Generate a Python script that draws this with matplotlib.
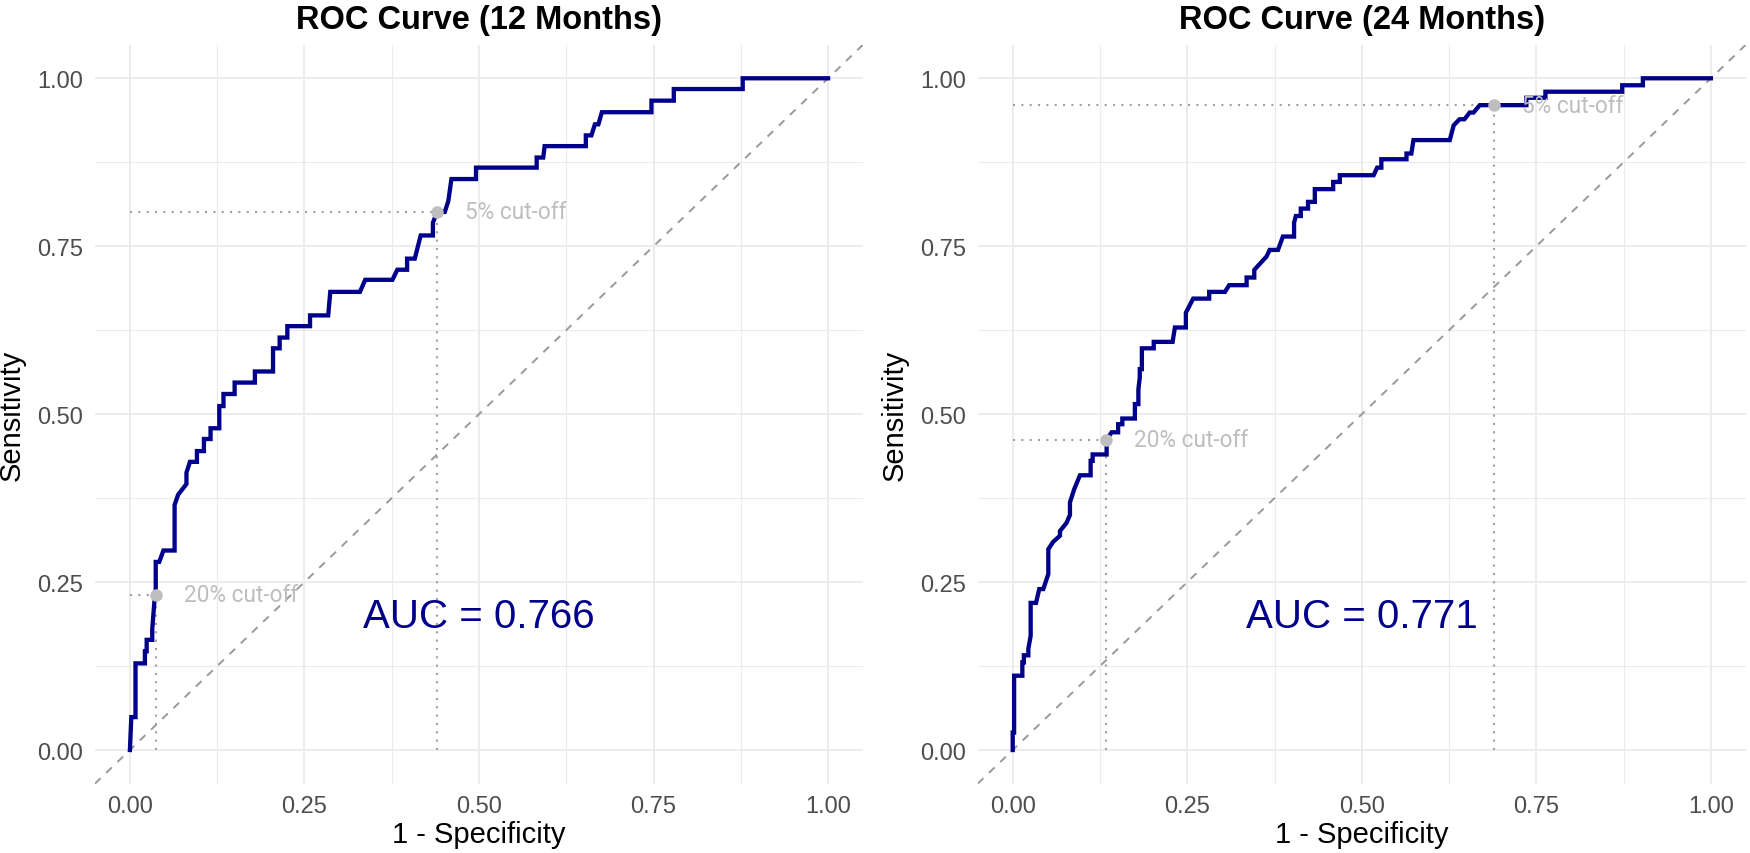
import numpy as np
import matplotlib
matplotlib.use("Agg")
import matplotlib.pyplot as plt
from matplotlib.ticker import MultipleLocator

matplotlib.rcParams['font.family'] = ['Liberation Sans', 'DejaVu Sans']

# ROC curve vertices (1 - specificity, sensitivity)
fpr_12 = [0, 0.002, 0.008, 0.008, 0.0215, 0.0215, 0.024, 0.024, 0.032, 0.032,
          0.035, 0.037, 0.037, 0.042, 0.048, 0.064, 0.064, 0.069, 0.081, 0.081,
          0.086, 0.096, 0.096, 0.106, 0.106, 0.1155, 0.1155, 0.128, 0.128, 0.134,
          0.134, 0.150, 0.150, 0.179, 0.179, 0.205, 0.205, 0.2145, 0.2145, 0.2255,
          0.2255, 0.258, 0.258, 0.284, 0.287, 0.3295, 0.337, 0.376, 0.383, 0.397,
          0.397, 0.408, 0.4165, 0.434, 0.434, 0.440, 0.451, 0.456, 0.4605, 0.4957,
          0.4957, 0.5826, 0.5826, 0.592, 0.594, 0.653, 0.653, 0.661, 0.666, 0.671,
          0.676, 0.747, 0.747, 0.779, 0.779, 0.8777, 0.8777, 1.0]
tpr_12 = [0, 0.049, 0.049, 0.129, 0.129, 0.147, 0.147, 0.164, 0.164, 0.18,
          0.22, 0.231, 0.28, 0.28, 0.297, 0.297, 0.365, 0.38, 0.396, 0.413,
          0.429, 0.429, 0.445, 0.445, 0.463, 0.463, 0.479, 0.479, 0.512, 0.512,
          0.530, 0.530, 0.547, 0.547, 0.5635, 0.5635, 0.598, 0.598, 0.614, 0.614,
          0.631, 0.631, 0.647, 0.647, 0.682, 0.682, 0.70, 0.70, 0.715, 0.715,
          0.7315, 0.7315, 0.766, 0.766, 0.785, 0.801, 0.801, 0.817, 0.85, 0.85,
          0.867, 0.867, 0.882, 0.882, 0.899, 0.899, 0.915, 0.915, 0.9315, 0.9315,
          0.9495, 0.9495, 0.9667, 0.9667, 0.984, 0.984, 1.0, 1.0]

fpr_24 = [0, 0, 0.002, 0.002, 0.0138, 0.0138, 0.016, 0.016, 0.0224, 0.0224,
          0.0257, 0.0257, 0.0334, 0.038, 0.0438, 0.051, 0.051, 0.058, 0.0677, 0.0677,
          0.077, 0.082, 0.082, 0.088, 0.0963, 0.1116, 0.1116, 0.1145, 0.1145, 0.1345,
          0.1345, 0.1417, 0.151, 0.151, 0.157, 0.157, 0.175, 0.175, 0.18, 0.18,
          0.182, 0.182, 0.185, 0.185, 0.202, 0.202, 0.229, 0.2323, 0.248, 0.248,
          0.2585, 0.2814, 0.2814, 0.304, 0.31, 0.335, 0.335, 0.346, 0.346, 0.3635,
          0.368, 0.380, 0.387, 0.403, 0.403, 0.4055, 0.4126, 0.4126, 0.423, 0.423,
          0.4327, 0.4327, 0.459, 0.459, 0.4685, 0.4685, 0.517, 0.522, 0.528, 0.528,
          0.564, 0.564, 0.571, 0.574, 0.626, 0.6316, 0.640, 0.647, 0.6545, 0.66,
          0.669, 0.7357, 0.7357, 0.763, 0.763, 0.873, 0.873, 0.9026, 0.9026, 1.0]
tpr_24 = [0, 0.026, 0.026, 0.1106, 0.1106, 0.1305, 0.1305, 0.141, 0.141, 0.151,
          0.170, 0.219, 0.219, 0.2396, 0.2396, 0.262, 0.299, 0.31, 0.319, 0.326,
          0.338, 0.35, 0.3686, 0.388, 0.409, 0.409, 0.4305, 0.4305, 0.44, 0.44,
          0.462, 0.473, 0.473, 0.485, 0.485, 0.4935, 0.4935, 0.515, 0.515, 0.537,
          0.5545, 0.567, 0.567, 0.598, 0.598, 0.6076, 0.6076, 0.629, 0.629, 0.651,
          0.672, 0.672, 0.682, 0.682, 0.692, 0.692, 0.7034, 0.7034, 0.7148, 0.7346,
          0.7445, 0.7445, 0.7644, 0.7644, 0.785, 0.795, 0.795, 0.806, 0.806, 0.816,
          0.816, 0.835, 0.835, 0.8457, 0.8457, 0.8557, 0.8557, 0.867, 0.867, 0.8795,
          0.8795, 0.888, 0.888, 0.908, 0.908, 0.930, 0.939, 0.939, 0.949, 0.949,
          0.96, 0.96, 0.971, 0.971, 0.980, 0.980, 0.9896, 0.9896, 1.0, 1.0]

# cut-off points (fpr, tpr)
cut_labels = ["20% cut-off", "5% cut-off"]
cut_fpr_12 = [0.037, 0.440]
cut_tpr_12 = [0.231, 0.801]
cut_fpr_24 = [0.134, 0.689]
cut_tpr_24 = [0.462, 0.960]

titles = ["ROC Curve (12 Months)", "ROC Curve (24 Months)"]
auc_values = [0.766, 0.771]
ticks = [0.0, 0.25, 0.5, 0.75, 1.0]
tick_labels = ["0.00", "0.25", "0.50", "0.75", "1.00"]

CURVE = '#00008B'
GRID = '#EBEBEB'
REF = '#A0A0A0'
PT = '#BEBEBE'

W, H = 1750, 854
fig = plt.figure(figsize=(W/100, H/100), dpi=100)
ax1 = fig.add_axes([95/W, 1-784.6/H, 768/W, 738.9/H])
ax2 = fig.add_axes([977.8/W, 1-784.6/H, 768/W, 738.9/H])

panels = {
    ax1: [titles[0], auc_values[0], fpr_12, tpr_12, cut_fpr_12, cut_tpr_12],
    ax2: [titles[1], auc_values[1], fpr_24, tpr_24, cut_fpr_24, cut_tpr_24],
}

for ax, data in panels.items():
    ax.set_xlim(-0.05, 1.05)
    ax.set_ylim(-0.05, 1.05)
    for s in ax.spines.values():
        s.set_visible(False)
    ax.set_xticks(ticks)
    ax.set_yticks(ticks)
    ax.set_xticklabels(tick_labels)
    ax.set_yticklabels(tick_labels)
    ax.xaxis.set_minor_locator(MultipleLocator(0.125))
    ax.yaxis.set_minor_locator(MultipleLocator(0.125))
    ax.grid(which='major', color=GRID, linewidth=1.3)
    ax.grid(which='minor', color=GRID, linewidth=0.8)
    ax.set_axisbelow(True)
    ax.tick_params(which='both', length=0, labelsize=17, labelcolor='#4D4D4D', pad=8.5)

    # chance line across whole panel
    ax.plot([-0.05, 1.05], [-0.05, 1.05], color='#999999', linewidth=1.4,
            linestyle=(0, (4, 4)), zorder=2)

    # cut-off guides, points and labels
    for lab, cx, cy in zip(cut_labels, data[4], data[5]):
        ax.plot([0, cx], [cy, cy], color=REF, linewidth=1.5, linestyle=(0, (1, 3)), zorder=2)
        ax.plot([cx, cx], [0, cy], color=REF, linewidth=1.5, linestyle=(0, (1, 3)), zorder=2)

    ax.plot(data[2], data[3], color=CURVE, linewidth=3.1, zorder=3, solid_joinstyle='miter')

    for lab, cx, cy in zip(cut_labels, data[4], data[5]):
        ax.plot(cx, cy, 'o', color=PT, markersize=9, markeredgewidth=0, zorder=4)
        ax.text(cx + 0.04, cy, lab, color=PT, fontsize=16.3, ha='left', va='center',
                family=['Roboto', 'DejaVu Sans'], zorder=5)

    ax.text(0.5, 0.2, "AUC = %.3f" % data[1], color=CURVE, fontsize=29,
            ha='center', va='center', zorder=5)

    ax.set_title(data[0], fontsize=23.5, fontweight='bold', pad=12)
    ax.set_xlabel("1 - Specificity", fontsize=21, labelpad=2)
    ax.set_ylabel("Sensitivity", fontsize=21, labelpad=8)

plt.savefig("out.png", dpi=100)
plt.close()
